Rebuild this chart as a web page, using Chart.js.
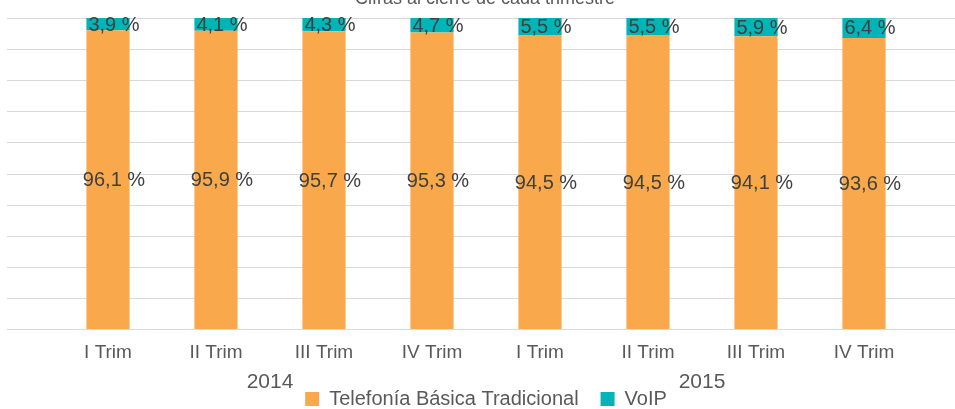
<!DOCTYPE html>
<html>
<head>
<meta charset="utf-8">
<script src="https://cdn.jsdelivr.net/npm/chart.js@4"></script>
<style>
  html, body { margin: 0; padding: 0; background: #fff; }
  #wrap { width: 955px; height: 409px; }
</style>
</head>
<body>
<div id="wrap"><canvas id="chart" width="955" height="409"></canvas></div>
<script>
const quarters = ["I Trim", "II Trim", "III Trim", "IV Trim", "I Trim", "II Trim", "III Trim", "IV Trim"];
const years = ["2014", "2015"];
const quartersPerYear = 4;
const telefonia = [96.1, 95.9, 95.7, 95.3, 94.5, 94.5, 94.1, 93.6];
const voip = [3.9, 4.1, 4.3, 4.7, 5.5, 5.5, 5.9, 6.4];
const gridValues = [0, 10, 20, 30, 40, 50, 60, 70, 80, 90, 100];

const FONT = "'Liberation Sans', Arial, sans-serif";
const TEXT = "#595959";

function fmt(v) {
  return v.toFixed(1).replace(".", ",") + " %";
}

// long horizontal gridlines, reaching past the plot like the original
const gridPlugin = {
  id: "grid",
  beforeDatasetsDraw(chart) {
    const ctx = chart.ctx;
    const y = chart.scales.y;
    ctx.save();
    ctx.strokeStyle = "#d9d9d9";
    ctx.lineWidth = 1;
    gridValues.forEach(v => {
      const py = Math.round(y.getPixelForValue(v)) + 0.5;
      ctx.beginPath();
      ctx.moveTo(7, py);
      ctx.lineTo(955, py);
      ctx.stroke();
    });
    ctx.restore();
  }
};

const extrasPlugin = {
  id: "extras",
  afterDatasetsDraw(chart) {
    const ctx = chart.ctx;
    ctx.save();
    ctx.fillStyle = "#404040";
    ctx.font = "20px " + FONT;
    ctx.textAlign = "center";
    ctx.textBaseline = "middle";
    chart.data.datasets.forEach((ds, di) => {
      chart.getDatasetMeta(di).data.forEach((bar, i) => {
        ctx.fillText(fmt(ds.data[i]), bar.x + 6, (bar.y + bar.base) / 2 + 1);
      });
    });

    // year labels under each group of quarters
    const x = chart.scales.x;
    ctx.fillStyle = TEXT;
    ctx.font = "21px " + FONT;
    years.forEach((yr, k) => {
      const a = x.getPixelForValue(k * quartersPerYear);
      const b = x.getPixelForValue(k * quartersPerYear + quartersPerYear - 1);
      ctx.fillText(yr, (a + b) / 2, 382);
    });

    // title, mostly cut off at the top edge
    ctx.font = "18px " + FONT;
    ctx.textBaseline = "alphabetic";
    ctx.fillText("Cifras al cierre de cada trimestre", 485, 4);
    ctx.restore();
  }
};

const chart = new Chart(document.getElementById("chart"), {
  type: "bar",
  data: {
    labels: quarters,
    datasets: [
      { label: "Telefonía Básica Tradicional", data: telefonia, backgroundColor: "#f9a94b" },
      { label: "VoIP", data: voip, backgroundColor: "#00b5b8" }
    ]
  },
  options: {
    responsive: false,
    animation: false,
    layout: { padding: { left: 54, right: 37, top: 18, bottom: -10 } },
    datasets: { bar: { categoryPercentage: 1, barPercentage: 0.4 } },
    scales: {
      x: {
        stacked: true,
        grid: { display: false },
        border: { display: false },
        ticks: { color: TEXT, font: { family: FONT, size: 19 }, padding: 4 },
        afterFit: s => { s.height = 38; }
      },
      y: {
        stacked: true,
        display: false,
        min: 0,
        max: 100
      }
    },
    plugins: {
      legend: {
        position: "bottom",
        labels: {
          color: TEXT,
          font: { family: FONT, size: 20 },
          boxWidth: 14,
          boxHeight: 14,
          padding: 22
        }
      },
      tooltip: { enabled: false }
    }
  },
  plugins: [gridPlugin, extrasPlugin]
});
</script>
</body>
</html>
